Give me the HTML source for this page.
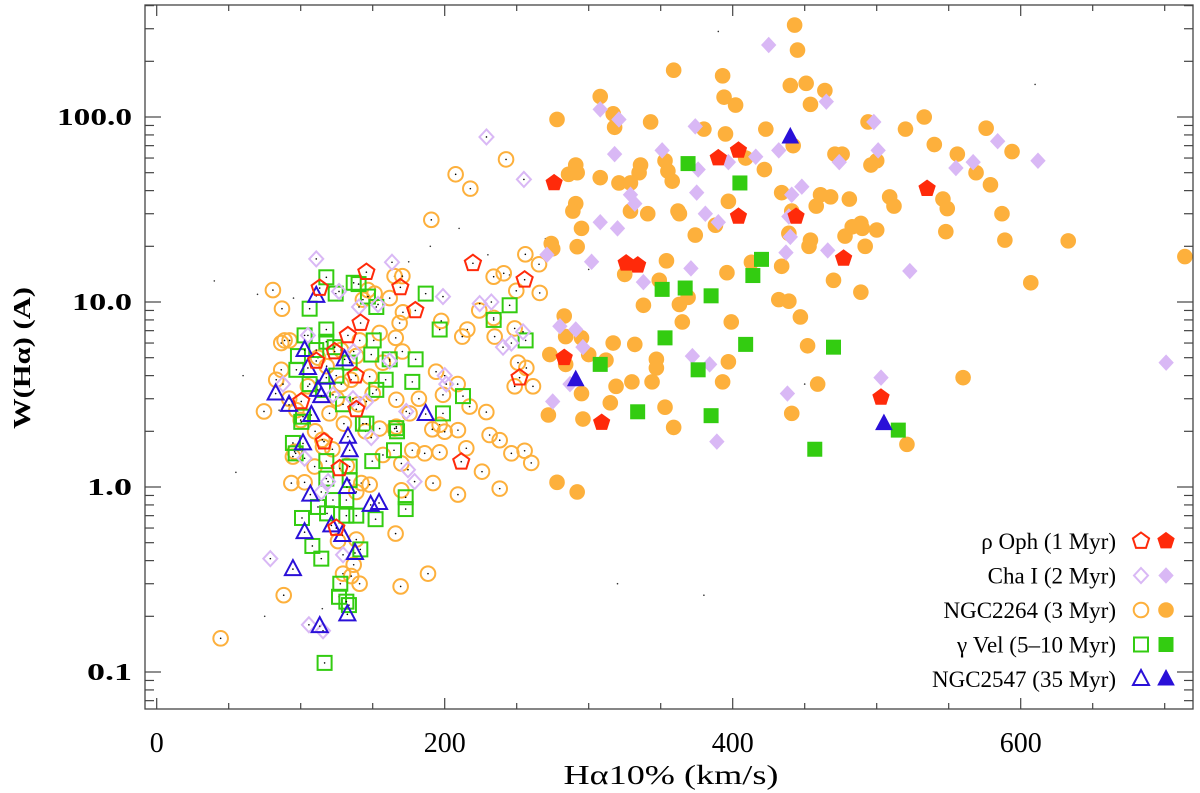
<!DOCTYPE html>
<html><head><meta charset="utf-8"><style>
html,body{margin:0;padding:0;background:#fff;}
svg{display:block;font-family:"Liberation Serif","DejaVu Serif",serif;}
</style></head><body>
<svg id="chart" width="1200" height="793" viewBox="0 0 1200 793" xmlns="http://www.w3.org/2000/svg">
<g id="marks"></g>
<g id="axes"></g>
<text x="671" y="784" text-anchor="middle" font-size="27" textLength="215" lengthAdjust="spacingAndGlyphs">Hα10% (km/s)</text>
<text transform="translate(30,358) rotate(-90)" text-anchor="middle" font-size="24" font-weight="bold" textLength="142" lengthAdjust="spacingAndGlyphs">W(Hα) (A)</text>
<g id="legend"></g>
</svg>
<script>
// ---- data ----
const xTicks=[0,200,400,600];
const yTicks=[0.1,1,10,100];
const yTickLabels=["0.1","1.0","10.0","100.0"];
const legendLabels=["ρ Oph (1 Myr)","Cha I (2 Myr)","NGC2264 (3 Myr)","γ Vel (5–10 Myr)","NGC2547 (35 Myr)"];

// NGC2264 filled
const n2264X=[443,445,359,393,440,451,464,394,402,454,308,317,318,278,343,380,395,423,494,520,533,576,540,556,594,442,471,476,409,496,500,291,286,292,336,335,353,355,358,308,321,329,422,569,579,434,461,468,458,481,509,512,546,549,587,291,289,329,341,362,363,397,441,295,374,388,439,478,483,489,490,500,454,453,492,548,589,633,714,274,275,292,354,413,434,396,325,349,470,489,607,338,363,369,432,439,447,283,365,399,284,295,317,332,452,273,300,312,347,347,397,284,319,330,344,393,459,560,295,315,272,296,353,359,441,521,278,292];
const n2264Y=[314,230,179,167,148,152,139,128,116,117,129,104,88,97,94,86,81,86,94,86,100,87,71,63,65,70,63,63,60,55,58,55,49,50,55,50,58,51,45,47,44,44,52,50,43,39,38,37,33,36,37,33,36,32,30,34,31,31,30,31,30,35,31,25,23,26,23.5,22.7,25.5,26.6,25,24.5,21.6,20,20,24,21.6,21.4,17.6,20.7,19.4,19.9,16.7,16.4,15.6,14.4,14.1,13.1,13.1,11.3,12.7,9.6,9.7,10.6,10.3,10.1,8.3,8.4,7.8,7.8,6.5,6.4,6.0,5.9,5.8,5.2,5.2,4.85,4.9,4.4,4.75,4.6,3.5,3.7,3.7,3.7,3.6,3.9,3.2,2.85,2.45,2.33,2.7,2.1,2.5,1.7,1.06,0.94];
// Cha I filled
const chaX=[425,465,308,321,374,498,584,612,318,351,416,397,376,432,474,501,555,567,448,441,375,329,332,381,390,308,320,439,440,437,466,271,302,371,338,523,280,291,296,372,384,701,503,438,287,275,389];
const chaY=[245,121,110,97,89,94,74,58,63,66,61,57,52,66,57,66,53,57,42,38,39,38,34,30,27,27,25,29,22.5,18.5,19,18,16.5,15.2,12.8,14.7,7.4,7.1,5.7,5.1,4.6,4.7,3.9,3.2,3.6,2.9,1.76];
// rho Oph filled
const ophX=[404,390,276,535,404,444,326,334,477,283,309,503];
const ophY=[66,60,44,41,29,29,16.2,15.8,17.2,5.0,2.23,3.05];
// gamma Vel filled
const velX=[369,405,420,414,351,367,385,353,409,470,308,376,334,385,515,457];
const velY=[56,44,17,13.9,11.7,11.9,10.8,6.4,5.9,5.7,4.6,4.3,2.55,2.43,2.03,1.6];
// NGC2547 filled
const n2547X=[440,291,505];
const n2547Y=[78,3.8,2.2];

// open NGC2264
const oN2264X=[242.6,207.6,217.8,190.7,256,265.5,234,241,249.7,266,80.7,87,165.2,170.6,146.7,161.8,171,168.7,197.6,234,224,248.6,215.7,212.2,234.7,88.8,86.5,92.3,166,154.8,170.6,141,194,209,198.8,217.3,228.9,250.9,256.7,248.6,261.3,182.1,166.4,86.5,83,74.5,143.2,151.3,147.9,138.6,157.1,128.2,196.5,166.4,175.6,191.4,200,209.2,231.2,238.2,246.3,255.5,260.1,225.9,238.2,209.2,191.9,177.5,186.1,196.5,215,165.2,154.8,169.9,169.9,93.5,102.7,109.7,142.1,147.9,138.6,165.9,188.4,169.4,88.2,44.4,129.4,135.1,140.9,136.8,138.6,125.9,157.1,94.6,95.8,115.5,110,120,125,130,115,100,105,118,128,135,140,112,92,97,122,132,145,150];
const oN2264Y=[59,49,41,27.8,18.1,16,13.7,14.3,11.5,11.2,11.6,9.2,13.8,13.8,11.6,10.5,8.8,7.7,7.9,8.2,9.0,7.2,7.1,6.5,6.5,6.2,6.0,6.2,6.4,6.8,5.4,6.2,4.2,3.6,3.15,2.72,2.54,4.7,4.4,3.5,3.5,3.0,2.96,4.3,3.8,2.56,10.3,11.1,3.95,5.1,4.7,3.6,2.17,2.12,2.5,2.05,1.99,2.03,1.91,1.79,1.52,1.57,1.35,1.21,0.98,0.91,1.05,1.58,1.52,1.54,1.62,2.07,2.07,1.34,0.96,1.05,1.06,1.29,1.05,1.03,0.94,0.56,0.34,0.29,0.26,0.152,0.34,0.33,0.30,0.38,0.52,0.51,1.49,1.46,1.55,1.65,2.0,2.5,3.0,2.2,1.8,2.3,3.5,4.5,5.5,3.8,2.8,5.0,3.0,2.6,1.6,1.3,2.0,3.2];
// open gamma Vel
const oVelX=[117.8,136.8,140.2,106.2,117.8,124.3,146.7,152.5,186.8,245.1,234,196.5,256.2,102.7,117.8,150.7,149,179.8,161.8,159,177.5,212.7,198.8,166.4,143.2,98.1,97,110.8,123.6,134,124.7,106.2,115.5,101.6,129.4,152.5,100.4,145.6,166.9,94.6,96.5,164.8,149.7,117.8,134,117.8,134,172.9,172.9,122.4,131.7,112,118.3,131.7,138.6,100.9,152,108.1,114.3,141.4,127.5,126.6,133.5,116.6,131.7];
const oVelY=[13.6,12.7,12.5,9.2,7.1,11.1,10.7,9.4,11.1,9.6,8.0,7.1,6.2,6.6,6.1,6.2,5.2,4.9,4.9,3.8,3.7,3.1,2.5,2.08,2.2,5.1,4.3,5.5,5.7,4.7,4.0,3.6,3.35,2.4,2.8,3.35,2.25,2.2,2.0,1.73,1.52,1.58,1.38,1.38,1.29,1.11,1.09,0.88,0.76,0.85,0.85,0.78,0.72,0.70,0.70,0.68,0.67,0.48,0.41,0.46,0.30,0.255,0.23,0.112,0.24];
// open Cha I
const oChaX=[110.8,163.4,198.8,224.3,232.4,240.5,246.3,254.4,140.5,153.7,126.6,105,136.8,161.8,200,201.1,87.7,122.4,145.6,173.3,136.3,102.7,119,114.3,149,174.5,179.1,78.9,129.4,105.7,115.5,229,255];
const oChaY=[17.1,16.4,10.7,9.8,10,5.7,6.0,6.9,9.4,9.7,11.4,6.6,5.4,4.8,4.0,3.6,3.6,3.15,2.9,2.56,3.0,1.43,1.07,0.94,1.85,1.24,1.07,0.41,0.43,0.18,0.167,78,46];
// open NGC2547
const oN2547X=[110.8,102.7,105,130.5,117.8,112,114.3,82.6,91.9,107.4,186.8,101.6,132.8,134,132.1,106.7,148.6,154.4,121.3,102.7,128.9,137.7,94.6,113.2,132.4];
const oN2547Y=[10.8,5.5,4.4,4.9,3.9,3.35,3.1,3.2,2.78,2.45,2.48,1.72,1.87,1.58,1.0,0.91,0.80,0.82,0.62,0.57,0.55,0.44,0.36,0.177,0.205];
// open rho Oph
const oOphX=[145.6,169.2,113.2,179.6,141.6,132.8,123.6,110.8,138.2,100.4,138.6,219.6,255.5,252,116.2,127.1,124.7,211.5];
const oOphY=[14.5,12,11.9,9.0,7.7,6.6,5.4,4.8,4.0,2.9,2.63,16.2,13.2,3.9,1.76,1.26,0.6,1.37];
// background field stars (tiny dots)
const bgX=[70,95,40,60,150,190,230,260,300,140,175,85,55,210,270,245,75,115,320,380,450,610,390,120];
const bgY=[11,10.5,13,4,14,20,18,17,15,15,16.5,2.6,1.2,25,22,14,0.2,0.22,0.3,0.26,3.6,150,290,12];

// ---- axes ----
const L=145,R=1193,T=5,B=709;
const X=v=>156.7+v*1.44;
const Y=v=>487-Math.log10(v)*185;
const NS="http://www.w3.org/2000/svg";
function mk(tag,attrs,parent){const e=document.createElementNS(NS,tag);for(const k in attrs)e.setAttribute(k,attrs[k]);parent.appendChild(e);return e;}
const axes=document.getElementById('axes'),marks=document.getElementById('marks'),legend=document.getElementById('legend');

const frame=mk('rect',{x:L,y:T,width:R-L,height:B-T,fill:'none',stroke:'#444','stroke-width':1.3},axes);


for(let v=0;v<=720;v+=50){
  const major=xTicks.includes(v);const len=major?11:6;const x=X(v);if(x<L||x>R)continue;
  const t1=mk('line',{x1:x,x2:x,y1:B,y2:B-len,stroke:'#444','stroke-width':1.2},axes);
  
  
  const t2=mk('line',{x1:x,x2:x,y1:T,y2:T+len,stroke:'#444','stroke-width':1.2},axes);
  
  
}
xTicks.forEach(v=>{
  const t=mk('text',{x:X(v),y:752,'text-anchor':'middle','font-size':28},axes);t.textContent=String(v);
  
  
});
for(let d=-2;d<=2;d++){for(let m=1;m<=9;m++){
  const v=m*Math.pow(10,d);const y=Y(v);if(y<T||y>B)continue;const len=m===1?16:9;
  const t1=mk('line',{x1:L,x2:L+len,y1:y,y2:y,stroke:'#444','stroke-width':1.2},axes);
  
  
  const t2=mk('line',{x1:R,x2:R-len,y1:y,y2:y,stroke:'#444','stroke-width':1.2},axes);
  
  
}}
yTicks.forEach((v,i)=>{
  const t=mk('text',{x:132,y:Y(v)+8,'text-anchor':'end','font-size':24,'font-weight':'bold',textLength:yTickLabels[i].length*15,lengthAdjust:'spacingAndGlyphs'},axes);t.textContent=yTickLabels[i];
  
  
});

// ---- markers ----
const COL={oph:'#ff2a0a',cha:'#d9b8f5',n2264:'#fdb03c',vel:'#33cc11',n2547:'#2a10d8'};
function shape(kind,cx,cy,color,filled,parent){
  const st=filled?{fill:color,stroke:color,'stroke-width':1}:{fill:'none',stroke:color,'stroke-width':2};
  let e;
  if(kind==='circle') e=mk('circle',Object.assign({cx,cy,r:7.3},st),parent);
  else if(kind==='square') e=mk('rect',Object.assign({x:cx-7,y:cy-7,width:14,height:14},st),parent);
  else if(kind==='diamond') e=mk('polygon',Object.assign({points:`${cx},${cy-7.5} ${cx+7},${cy} ${cx},${cy+7.5} ${cx-7},${cy}`},st),parent);
  else if(kind==='triangle') e=mk('polygon',Object.assign({points:`${cx},${cy-9} ${cx+8},${cy+6} ${cx-8},${cy+6}`},st),parent);
  else { let p=[];for(let i=0;i<5;i++){const a=-Math.PI/2+i*2*Math.PI/5;p.push((cx+8.5*Math.cos(a)).toFixed(1)+','+(cy+8.5*Math.sin(a)).toFixed(1));}
    e=mk('polygon',Object.assign({points:p.join(' ')},st),parent);}
  return e;
}
function series(xs,ys,kind,color,filled,name){
  const g=mk('g',{},marks);
  
  
  xs.forEach((v,i)=>{
    const cx=X(v),cy=Y(ys[i]);
    const e=shape(kind,cx,cy,color,filled,g);
    
    
    if(!filled){const d=mk('circle',{cx,cy,r:0.8,fill:'#000'},g);
      
      }
  });
}
bgX.forEach((v,i)=>{const d=mk('circle',{cx:X(v),cy:Y(bgY[i]),r:0.8,fill:'#333'},marks);
  
  });
series(oN2264X,oN2264Y,'circle',COL.n2264,false,'ngc2264-open');
series(oVelX,oVelY,'square',COL.vel,false,'gamma-vel-open');
series(oChaX,oChaY,'diamond',COL.cha,false,'cha-i-open');
series(oN2547X,oN2547Y,'triangle',COL.n2547,false,'ngc2547-open');
series(oOphX,oOphY,'pentagon',COL.oph,false,'rho-oph-open');
series(n2264X,n2264Y,'circle',COL.n2264,true,'ngc2264-filled');
series(chaX,chaY,'diamond',COL.cha,true,'cha-i-filled');
series(velX,velY,'square',COL.vel,true,'gamma-vel-filled');
series(ophX,ophY,'pentagon',COL.oph,true,'rho-oph-filled');
series(n2547X,n2547Y,'triangle',COL.n2547,true,'ngc2547-filled');

// ---- legend ----
const kinds=['pentagon','diamond','circle','square','triangle'];
const cols=[COL.oph,COL.cha,COL.n2264,COL.vel,COL.n2547];
legendLabels.forEach((lab,i)=>{
  const y=541+i*34.5;
  const t=mk('text',{x:1116,y:y+8,'text-anchor':'end','font-size':23},legend);t.textContent=lab;
  
  
  const a=shape(kinds[i],1141,y,cols[i],false,legend);
  
  
  const b=shape(kinds[i],1166,y,cols[i],true,legend);
  
  
});
</script>
</body></html>
